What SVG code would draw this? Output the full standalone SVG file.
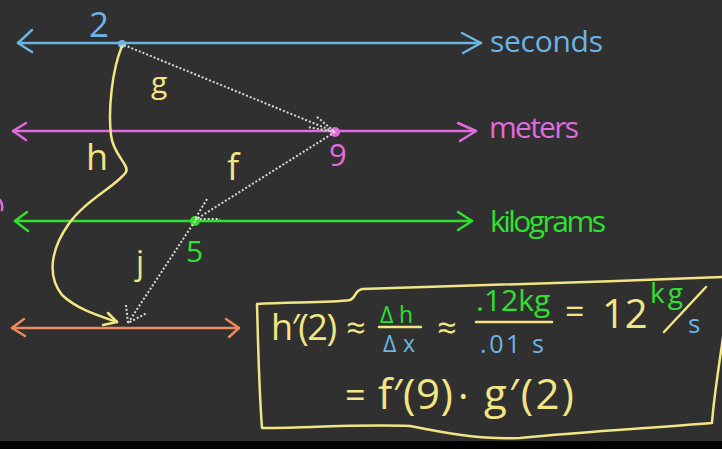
<svg xmlns="http://www.w3.org/2000/svg" width="722" height="449" viewBox="0 0 722 449">
<defs>
<style>
.ax{fill:none;stroke-width:2.5;stroke-linecap:round;stroke-linejoin:round}
.blue{stroke:#6cb4e4}.mag{stroke:#e06ade}.grn{stroke:#2fe02f}.org{stroke:#ec8a5e}.yel{stroke:#f2e584}
.dot{fill:none;stroke:#d9d9d0;stroke-width:2;stroke-dasharray:2 2}
.t{font-family:"Open Sans","Liberation Sans",sans-serif}
.tb{fill:#6cb4e4}.tm{fill:#e06ade}.tg{fill:#2fe02f}.ty{fill:#f2e584}
</style>
</defs>
<rect width="722" height="449" fill="#303030"/>
<rect y="441" width="722" height="8" fill="#000"/>
<path d="M0,200 q3,4 2,10" class="ax mag"/>

<g id="axis-seconds">
<line x1="18" y1="43" x2="481" y2="43" class="ax blue"/>
<polyline points="32,30 18,43 32,52" class="ax blue"/>
<polyline points="462,33 481,43 463,53" class="ax blue"/>
<circle cx="122" cy="44" r="4" fill="#6cb4e4"/>
<text x="89" y="37" font-size="35" class="t tb">2</text>
<text x="490" y="52" font-size="30" textLength="113" class="t tb">seconds</text>
</g>

<g id="axis-meters">
<line x1="13" y1="131" x2="476" y2="131" class="ax mag"/>
<polyline points="26,123 13,131 26,140" class="ax mag"/>
<polyline points="458,123 476,131 460,141" class="ax mag"/>
<circle cx="335" cy="132" r="5" fill="#e06ade"/>
<text x="329" y="166" font-size="31" class="t tm">9</text>
<text x="489" y="138" font-size="30" textLength="90" class="t tm">meters</text>
</g>

<g id="axis-kilograms">
<line x1="15" y1="221" x2="472" y2="221" class="ax grn"/>
<polyline points="27,212 15,221 28,231" class="ax grn"/>
<polyline points="458,212 472,221 458,230" class="ax grn"/>
<circle cx="195" cy="221" r="5" fill="#2fe02f"/>
<text x="186" y="262" font-size="30" class="t tg">5</text>
<text x="490" y="232" font-size="30" textLength="116" class="t tg">kilograms</text>
</g>

<g id="axis-output">
<line x1="12" y1="328" x2="239" y2="328" class="ax org"/>
<polyline points="24,319 12,328 25,336" class="ax org"/>
<polyline points="226,319 239,328 229,337" class="ax org"/>
</g>

<g id="connectors">
<g id="g-arrow">
<line x1="124" y1="45" x2="335" y2="132" class="dot"/>
<polyline points="317,117 335,132 308,127" class="dot"/>
</g>
<g id="f-arrow">
<line x1="335" y1="132" x2="195" y2="220" class="dot"/>
<polyline points="207,199 195,219 220,219" class="dot"/>
</g>
<g id="j-arrow">
<line x1="195" y1="221" x2="128" y2="323" class="dot"/>
<polyline points="126,305 128,323 147,313" class="dot"/>
</g>
<g id="h-arrow">
<path d="M122,46 C112,70 108,110 111,135 C113,155 130,165 126,172 C118,185 85,200 68,225 C52,248 46,275 62,295 C78,310 100,316 117,322" class="ax yel"/>
<polyline points="108,313 117,322 103,325" class="ax yel"/>
</g>
</g>

<g id="labels">
<text x="151" y="93" font-size="30" class="t ty">g</text>
<text x="86" y="170" font-size="36" class="t ty">h</text>
<text x="227" y="180" font-size="36" class="t ty">f</text>
<text x="136" y="274" font-size="32" class="t ty">j</text>
</g>

<g id="formula-box">
<path d="M257,304 C290,302 330,303 350,300 C356,298 354,291 362,289 C450,286 600,282 724,277 L724,330 C720,360 714,395 712,423 C650,428 580,432 520,438 C480,440 440,432 410,426 C360,424 300,428 262,428 C259,390 258,340 257,304 Z" class="ax yel"/>
<text x="271" y="340" font-size="36" textLength="66" class="t ty">h′(2)</text>
<text x="346" y="340" font-size="34" class="t ty">≈</text>
<text x="380" y="323" font-size="23" textLength="33" class="t tg">Δh</text>
<line x1="379" y1="327" x2="421" y2="327" class="ax yel"/>
<text x="383" y="352" font-size="23" textLength="32" class="t tb">Δx</text>
<text x="437" y="340" font-size="34" class="t ty">≈</text>
<text x="476" y="311" font-size="30" class="t tg">.12kg</text>
<line x1="476" y1="322" x2="552" y2="322" class="ax yel"/>
<text x="480" y="353" font-size="25" textLength="64" class="t tb">.01 s</text>
<text x="565" y="324" font-size="34" class="t ty">=</text>
<text x="602" y="328" font-size="40" class="t ty">12</text>
<text x="650" y="303" font-size="28" textLength="33" class="t tg">kg</text>
<line x1="664" y1="332" x2="706" y2="287" class="ax yel"/>
<text x="688" y="333" font-size="26" class="t tb">s</text>
<text x="345" y="408" font-size="36" class="t ty">=</text>
<text x="378" y="409" font-size="42" textLength="75" class="t ty">f′(9)</text>
<text x="458" y="410" font-size="40" class="t ty">·</text>
<text x="484" y="409" font-size="42" textLength="90" class="t ty">g′(2)</text>
</g>
</svg>
